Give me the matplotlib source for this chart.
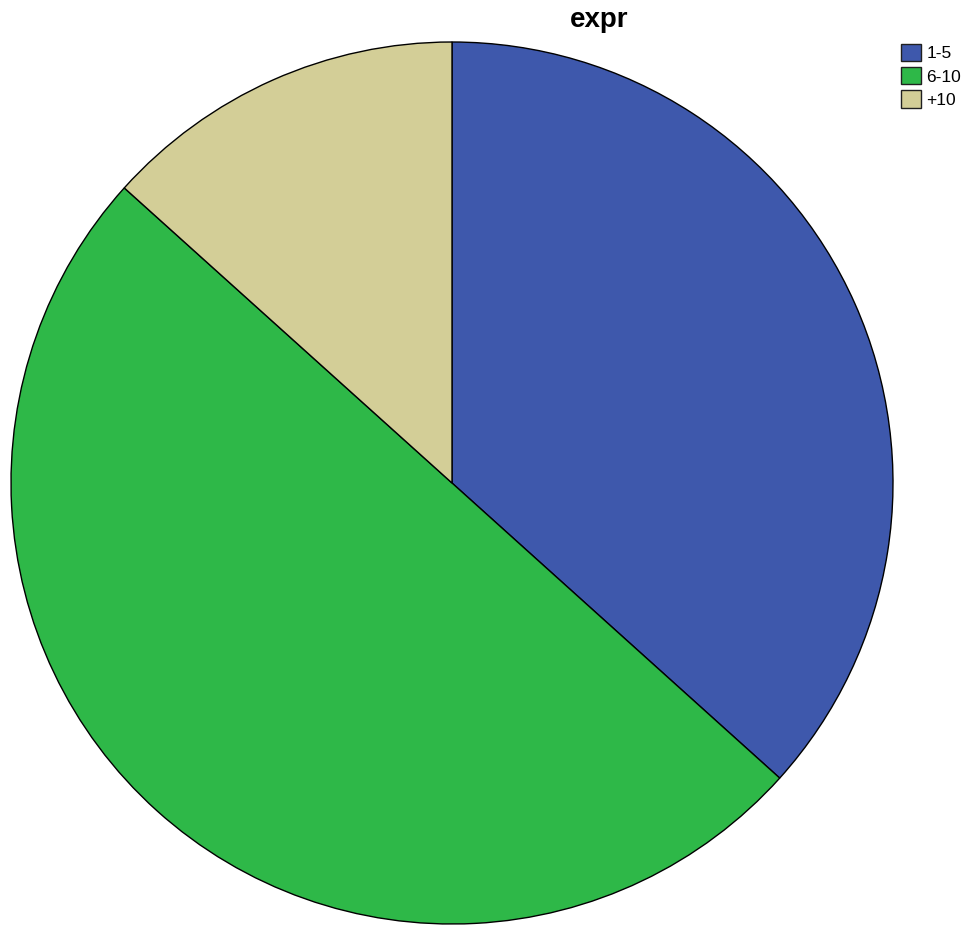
import matplotlib
matplotlib.use("Agg")
import matplotlib.pyplot as plt
from matplotlib.patches import Patch

categories = ["1-5", "6-10", "+10"]
counts = [11, 15, 4]
colors = ["#3E58AC", "#2EB848", "#D3CE97"]
title = "expr"

W, H = 971, 926
fig = plt.figure(figsize=(W / 100, H / 100), dpi=100)
ax = fig.add_axes([0, 0, 1, 1])
ax.pie(counts, colors=colors, startangle=90, counterclock=False,
       radius=441, center=(452, H - 483),
       wedgeprops=dict(edgecolor="black", linewidth=1.0))
ax.set_xlim(0, W)
ax.set_ylim(0, H)
ax.set_aspect("equal")
ax.axis("off")

fig.text(599 / W, 1 - 27 / H, title, ha="center", va="baseline",
         fontsize=20, fontweight="bold", family="Liberation Sans")

handles = [Patch(facecolor=c, edgecolor="#202020", linewidth=1.0) for c in colors]
fig.legend(handles, categories, loc="upper left",
           bbox_to_anchor=(901 / W, 1 - 44 / H), frameon=False,
           handlelength=1.15, handleheight=1.15, handletextpad=0.3,
           labelspacing=0.33, borderpad=0.0, borderaxespad=0.0,
           prop=dict(family="Liberation Sans", size=12.5))

fig.savefig("out.png", dpi=100)
